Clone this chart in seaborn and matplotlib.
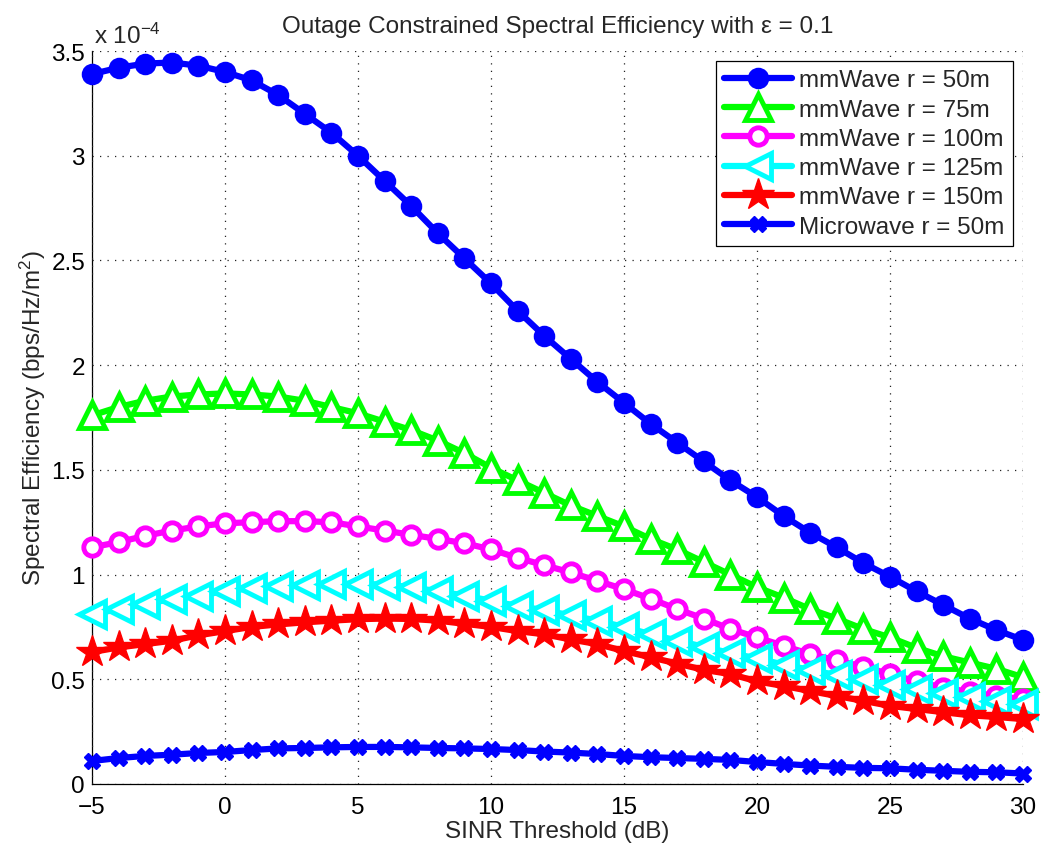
import numpy as np
import pandas as pd
import matplotlib
matplotlib.use("Agg")
import matplotlib.pyplot as plt
from matplotlib.ticker import MultipleLocator, FuncFormatter
import seaborn as sns

# SINR threshold axis (dB)
sinr_db = list(range(-5, 31))

# Spectral efficiency values, in units of 1e-4 bps/Hz/m^2
mmwave_50 = [3.39, 3.42, 3.44, 3.445, 3.43, 3.40, 3.36, 3.29, 3.20, 3.11,
             3.00, 2.88, 2.76, 2.63, 2.51, 2.39, 2.26, 2.14, 2.03, 1.92,
             1.82, 1.72, 1.63, 1.54, 1.45, 1.37, 1.28, 1.20, 1.13, 1.055,
             0.99, 0.92, 0.855, 0.79, 0.735, 0.688]
mmwave_75 = [1.76, 1.80, 1.83, 1.85, 1.86, 1.865, 1.86, 1.85, 1.83, 1.80,
             1.77, 1.73, 1.69, 1.64, 1.58, 1.51, 1.45, 1.39, 1.33, 1.28,
             1.23, 1.17, 1.12, 1.06, 1.00, 0.94, 0.89, 0.835, 0.79, 0.74,
             0.70, 0.65, 0.61, 0.58, 0.55, 0.51]
mmwave_100 = [1.13, 1.155, 1.185, 1.21, 1.23, 1.245, 1.25, 1.255, 1.255, 1.25,
              1.23, 1.21, 1.19, 1.17, 1.15, 1.12, 1.08, 1.045, 1.01, 0.97,
              0.93, 0.885, 0.835, 0.79, 0.74, 0.70, 0.66, 0.62, 0.59, 0.56,
              0.525, 0.49, 0.46, 0.44, 0.42, 0.405]
mmwave_125 = [0.81, 0.835, 0.86, 0.883, 0.90, 0.92, 0.935, 0.945, 0.952, 0.956,
              0.956, 0.952, 0.94, 0.92, 0.90, 0.875, 0.85, 0.83, 0.805, 0.78,
              0.75, 0.715, 0.685, 0.655, 0.625, 0.60, 0.57, 0.545, 0.52, 0.50,
              0.475, 0.455, 0.435, 0.415, 0.395, 0.38]
mmwave_150 = [0.63, 0.652, 0.668, 0.684, 0.71, 0.73, 0.75, 0.762, 0.772, 0.78,
              0.787, 0.79, 0.788, 0.78, 0.765, 0.75, 0.73, 0.715, 0.69, 0.668,
              0.635, 0.605, 0.575, 0.545, 0.525, 0.49, 0.468, 0.444, 0.42, 0.397,
              0.373, 0.358, 0.343, 0.328, 0.32, 0.31]
microwave_50 = [0.11, 0.124, 0.134, 0.14, 0.148, 0.153, 0.162, 0.17, 0.172, 0.175,
                0.177, 0.177, 0.175, 0.172, 0.17, 0.167, 0.162, 0.155, 0.15, 0.143,
                0.134, 0.128, 0.124, 0.12, 0.115, 0.105, 0.096, 0.088, 0.082, 0.077,
                0.075, 0.068, 0.063, 0.058, 0.056, 0.05]

series_labels = ["mmWave r = 50m", "mmWave r = 75m", "mmWave r = 100m",
                 "mmWave r = 125m", "mmWave r = 150m", "Microwave r = 50m"]
SCALE = 1e-4
FS = 17.5

sns.set_theme(style="white")
plt.rcParams["font.family"] = ["Liberation Sans", "DejaVu Sans"]
plt.rcParams["mathtext.fontset"] = "custom"
plt.rcParams["mathtext.rm"] = "Liberation Sans"
plt.rcParams["mathtext.it"] = "Liberation Sans"

fig = plt.figure(figsize=(10.43, 8.54), dpi=100)
ax = fig.add_axes([0.0882, 0.0808, 0.8926, 0.8583])

styles = [
    dict(color="#0000ff", marker="o", markersize=14, markerfacecolor="#0000ff",
         markeredgecolor="#0000ff", markeredgewidth=1.5),
    dict(color="#00ff00", marker="^", markersize=19, markerfacecolor="white",
         markeredgecolor="#00ff00", markeredgewidth=3.5),
    dict(color="#ff00ff", marker="o", markersize=12.5, markerfacecolor="white",
         markeredgecolor="#ff00ff", markeredgewidth=3.5),
    dict(color="#00ffff", marker="<", markersize=19, markerfacecolor="white",
         markeredgecolor="#00ffff", markeredgewidth=3.5),
    dict(color="#ff0000", marker="*", markersize=24, markerfacecolor="#ff0000",
         markeredgecolor="#ff0000", markeredgewidth=1),
    dict(color="#0000ff", marker="X", markersize=12, markerfacecolor="#0000ff",
         markeredgecolor="#0000ff", markeredgewidth=1),
]
all_series = [mmwave_50, mmwave_75, mmwave_100, mmwave_125, mmwave_150, microwave_50]

for vals, label, st in zip(all_series, series_labels, styles):
    df = pd.DataFrame({"sinr": sinr_db, "se": np.array(vals) * SCALE})
    sns.lineplot(data=df, x="sinr", y="se", ax=ax, label=label, linewidth=4.5,
                 clip_on=False, **st)

ax.set_xlim(-5, 30)
ax.set_ylim(0, 3.5e-4)
ax.xaxis.set_major_locator(MultipleLocator(5))
ax.xaxis.set_minor_locator(MultipleLocator(0.5))
ax.yaxis.set_major_locator(MultipleLocator(0.5e-4))
ax.yaxis.set_minor_locator(MultipleLocator(0.05e-4))
ax.yaxis.set_major_formatter(FuncFormatter(lambda v, p: f"{round(v / SCALE, 3):g}"))
ax.xaxis.set_major_formatter(FuncFormatter(lambda v, p: f"{v:g}".replace("-", "\u2212")))

# Box off: only left and bottom axis lines; the dotted grid closes the frame
ax.spines["top"].set_visible(False)
ax.spines["right"].set_visible(False)
for side in ("left", "bottom"):
    ax.spines[side].set_color("black")
    ax.spines[side].set_linewidth(0.9)
    ax.spines[side].set_zorder(0.5)

ax.tick_params(which="both", direction="in", top=False, right=False, colors="black",
               labelsize=FS)
ax.tick_params(which="major", length=7, width=0.8)
ax.tick_params(which="minor", length=3.5, width=0.6)
ax.tick_params(axis="x", which="major", pad=9)
ax.tick_params(axis="y", which="major", pad=5)

ax.grid(True, which="major", linestyle=(0, (1, 5)), color="#222222", linewidth=0.9)
ax.set_axisbelow(True)

ax.set_xlabel("SINR Threshold (dB)", fontsize=FS, labelpad=1)
ax.set_ylabel("Spectral Efficiency (bps/Hz/m$^2$)", fontsize=FS, labelpad=2.5)
ax.set_title("Outage Constrained Spectral Efficiency with \u03b5 = 0.1", fontsize=FS, pad=14)
ax.text(0.002, 1.004, "x 10$^{\u22124}$", transform=ax.transAxes, fontsize=FS,
        ha="left", va="bottom")

leg = ax.legend(loc="upper right", fontsize=FS, handlelength=2.8, numpoints=1,
                fancybox=False, framealpha=1, edgecolor="black",
                borderaxespad=0.4, labelspacing=0.3, handletextpad=0.3,
                borderpad=0.35)
leg.get_frame().set_linewidth(0.9)

fig.savefig("out.png", dpi=100)
